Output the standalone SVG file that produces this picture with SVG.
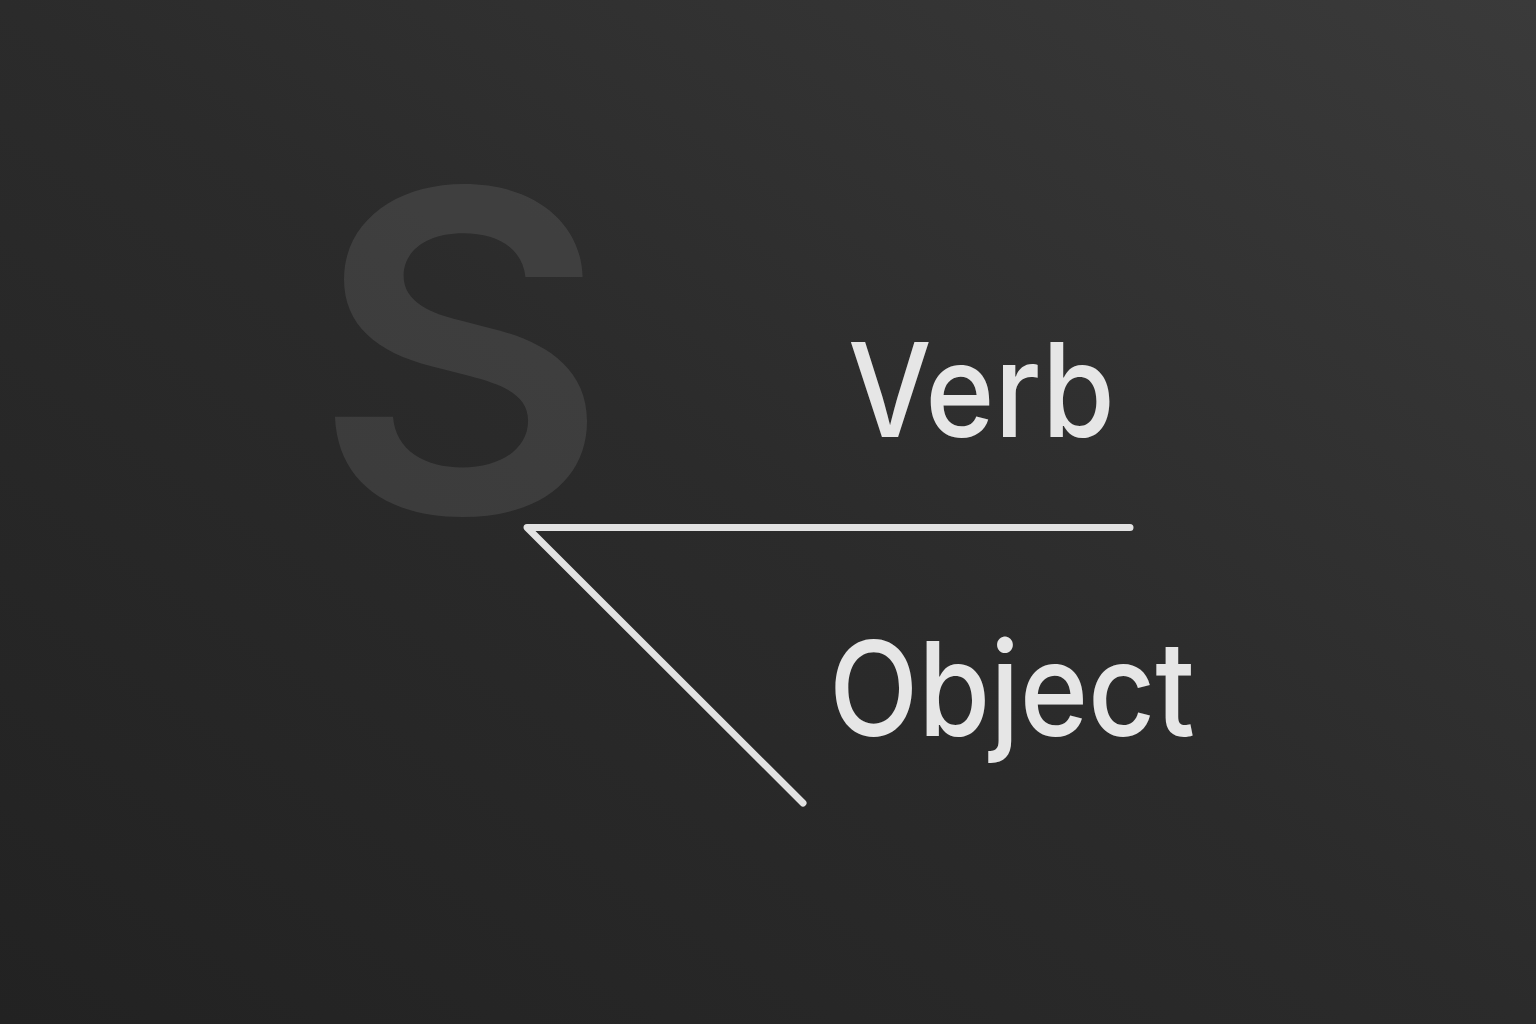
<svg xmlns="http://www.w3.org/2000/svg" width="1536" height="1024" viewBox="0 0 1536 1024">
<defs>
<linearGradient id="bg" x1="0" y1="1" x2="1" y2="0">
<stop offset="0" stop-color="#222222"/>
<stop offset="0.5" stop-color="#2b2b2b"/>
<stop offset="1" stop-color="#3a3a3a"/>
</linearGradient>
</defs>
<style>
.lbl{font-family:Inter,"Liberation Sans",Arial,sans-serif;fill:#e6e6e6;font-size:131px;font-weight:500}
.conn{stroke:#e2e2e2;stroke-width:7;fill:none;stroke-linecap:round;stroke-linejoin:round}
.subj{font-family:Inter,"Liberation Sans",Arial,sans-serif;fill:#ffffff;fill-opacity:0.09;font-size:445px;font-weight:600}
</style>
<rect width="1536" height="1024" fill="url(#bg)"/>
<g id="subject"><text class="subj" x="314" y="512" textLength="294" lengthAdjust="spacingAndGlyphs">S</text></g>
<g id="connectors">
<path class="conn" d="M1130 527.5 L527 527.5 L803 803"/>
</g>
<g id="verb"><text class="lbl" x="848" y="437" textLength="267" lengthAdjust="spacingAndGlyphs">Verb</text></g>
<g id="object"><text class="lbl" x="829" y="736" textLength="366" lengthAdjust="spacingAndGlyphs">Object</text></g>
</svg>
